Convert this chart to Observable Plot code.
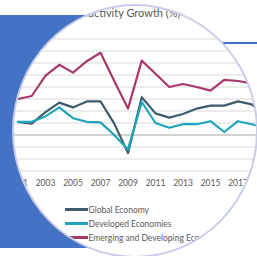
<!DOCTYPE html>
<html><head><meta charset="utf-8">
<script src="https://cdn.jsdelivr.net/npm/d3@7"></script>
<script src="https://cdn.jsdelivr.net/npm/@observablehq/plot@0.6"></script>
<style>
html,body{margin:0;padding:0;background:#fff;width:257px;height:256px;overflow:hidden;}
#stage{position:relative;width:257px;height:256px;overflow:hidden;}
#blue{position:absolute;left:0;top:15px;width:140px;height:233px;background:#4472c4;}
#bline{position:absolute;left:150px;top:42px;width:110px;height:2px;background:#4472c4;}
#circle{position:absolute;left:12px;top:4px;width:246px;height:254px;border-radius:50%;background:#fff;border:2.5px solid #c9cdea;box-sizing:border-box;overflow:hidden;}
#inner{position:absolute;left:-14.5px;top:-6.5px;width:300px;height:270px;font-family:Lato,"Open Sans",sans-serif;color:#595959;}
#inner svg{position:absolute;left:0;top:0;}
.title{position:absolute;top:6px;font-size:11px;line-height:13px;white-space:nowrap;}
.leg{position:absolute;left:65px;height:14px;font-size:8.5px;line-height:14px;white-space:nowrap;}
.sw{display:inline-block;width:23px;height:2.5px;vertical-align:middle;margin-right:1px;position:relative;top:-1px;}
</style></head>
<body>
<div id="stage">
  <div id="blue"></div>
  <div id="bline"></div>
  <div id="circle"><div id="inner"></div></div>
</div>
<script>
const titleText = "Labour Productivity Growth (%)";
const years = [2001,2002,2003,2004,2005,2006,2007,2008,2009,2010,2011,2012,2013,2014,2015,2016,2017,2018,2019];
const globalEconomy = [1.1,0.95,1.9,2.7,2.3,2.8,2.8,0.95,-1.5,3.15,1.8,1.45,1.75,2.2,2.45,2.45,2.8,2.55,1.6];
const developedEconomies = [1.1,1.1,1.55,2.3,1.4,1.1,1.05,0.0,-1.2,2.75,1.0,0.6,0.9,0.9,1.15,0.25,1.15,0.9,0.6];
const emergingEconomies = [3.0,3.25,4.95,5.85,5.2,6.15,6.85,4.5,2.2,6.2,5.1,4.0,4.25,4.0,3.7,4.6,4.5,4.3,3.0];
const seriesNames = ["Global Economy","Developed Economies","Emerging and Developing Economies"];
const seriesColors = ["#3f5c6d","#1ea5bc","#a8386b"];
const gridValues = [-3,-2,-1,0,1,2,3,4,5,6,7,8];
const tickYears = [2001,2003,2005,2007,2009,2011,2013,2015,2017];

const seriesValues = [globalEconomy, developedEconomies, emergingEconomies];
const data = [];
seriesNames.forEach((name, i) => {
  years.forEach((yr, j) => data.push({year: yr, value: seriesValues[i][j], series: name}));
});

const chart = Plot.plot({
  width: 300, height: 200,
  marginLeft: 3.75, marginRight: 21.25, marginTop: 38.5, marginBottom: 29.5,
  x: {domain: [2000, 2020]},
  y: {domain: [-3, 8], axis: null},
  color: {domain: seriesNames, range: seriesColors},
  style: {fontFamily: "Lato, 'Open Sans', sans-serif", fontSize: "8.5px", color: "#595959", background: "transparent", overflow: "visible"},
  marks: [
    Plot.ruleY(gridValues.filter(v => v !== 0), {stroke: "#d9d9d9", strokeWidth: 1}),
    Plot.ruleY([0], {stroke: "#a6a6a6", strokeWidth: 1}),
    Plot.axisX({ticks: tickYears, tickFormat: d => String(d), tickSize: 0, tickPadding: 9, fill: "#595959"}),
    Plot.line(data, {x: "year", y: "value", z: "series", stroke: "series", strokeWidth: 2.2})
  ]
});
const inner = document.getElementById("inner");
inner.appendChild(chart);

// title
const canvas = document.createElement("canvas");
const ctx = canvas.getContext("2d");
ctx.font = "11px Lato";
const prefixW = ctx.measureText("Labour Prod").width;
const t = document.createElement("div");
t.className = "title";
t.textContent = titleText;
t.style.left = (88.5 - prefixW) + "px";
inner.appendChild(t);

// legend
seriesNames.forEach((name, i) => {
  const d = document.createElement("div");
  d.className = "leg";
  d.style.top = (203 + i * 14) + "px";
  const sw = document.createElement("span");
  sw.className = "sw";
  sw.style.background = seriesColors[i];
  d.appendChild(sw);
  d.appendChild(document.createTextNode(name));
  inner.appendChild(d);
});
</script>
</body></html>
